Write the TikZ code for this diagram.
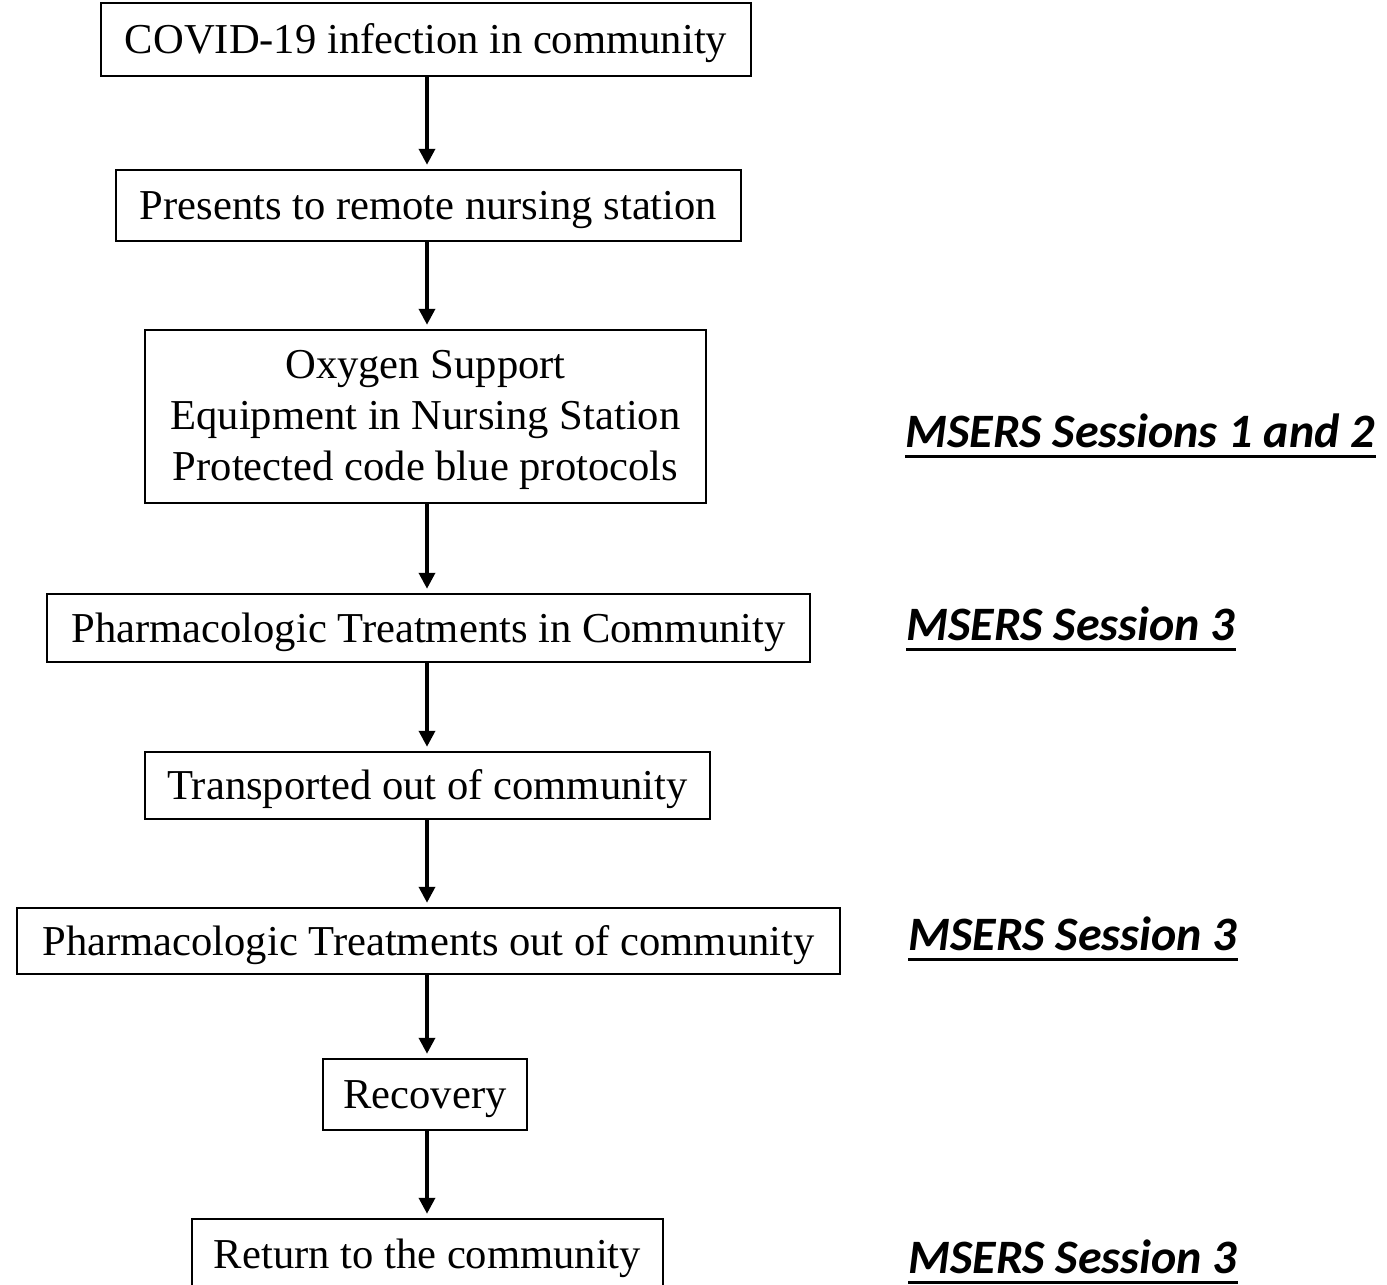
\documentclass[tikz,border=0pt]{standalone}
\usepackage{fontspec}
\setmainfont{Liberation Serif}
\newfontfamily\labfont{Carlito}
\usetikzlibrary{arrows.meta}
\tikzset{
  box/.style={draw, line width=1.25pt, inner sep=0pt, align=center,
    font=\fontsize{21.3}{25.7}\selectfont},
  one/.style={text height=19.1pt, text depth=5pt},
  arr/.style={line width=1.8pt, -{Triangle[width=8pt,length=8pt]}, shorten >=2pt},
  lab/.style={inner sep=0pt, anchor=base west,
    font=\labfont\bfseries\itshape\fontsize{24}{28}\selectfont},
  uline/.style={line width=1.3pt}
}
\begin{document}
\begin{tikzpicture}[x=0.5pt,y=-0.5pt]
\useasboundingbox (0,0) rectangle (1387,1285);
\node[box,one,minimum width=325pt,minimum height=36.5pt] (b1) at (426,39.5) {COVID-19 infection in community};
\node[box,one,minimum width=312.5pt,minimum height=35.5pt] (b2) at (428.5,205.5) {Presents to remote nursing station};
\node[box,text height=68.9pt,text depth=4.6pt,minimum width=280.5pt,minimum height=86.5pt] (b3) at (425.5,416.5) {Oxygen Support\\Equipment in Nursing Station\\Protected code blue protocols};
\node[box,one,minimum width=381.5pt,minimum height=34pt] (b4) at (428.5,628) {Pharmacologic Treatments in Community};
\node[box,one,minimum width=282.5pt,minimum height=33.5pt] (b5) at (427.5,785.5) {Transported out of community};
\node[box,one,minimum width=411.5pt,minimum height=33pt] (b6) at (428.5,941) {Pharmacologic Treatments out of community};
\node[box,one,minimum width=102pt,minimum height=35.5pt] (b7) at (425,1094.5) {Recovery};
\node[box,one,minimum width=235.5pt,minimum height=35.5pt] (b8) at (427.5,1254.5) {Return to the community};

\coordinate (ax) at (427,0);
\draw[arr] (b1.south -| ax) -- (b2.north -| ax);
\draw[arr] (b2.south -| ax) -- (b3.north -| ax);
\draw[arr] (b3.south -| ax) -- (b4.north -| ax);
\draw[arr] (b4.south -| ax) -- (b5.north -| ax);
\draw[arr] (b5.south -| ax) -- (b6.north -| ax);
\draw[arr] (b6.south -| ax) -- (b7.north -| ax);
\draw[arr] (b7.south -| ax) -- (b8.north -| ax);

\node[lab] (l1) at (905,447) {MSERS Sessions 1 and 2};
\node[lab] (l2) at (906,640) {MSERS Session 3};
\node[lab] (l3) at (908,950) {MSERS Session 3};
\node[lab] (l4) at (908,1273) {MSERS Session 3};
\foreach \l in {l1,l2,l3,l4}
  \draw[uline] ([yshift=-4.6pt]\l.base west) -- ([yshift=-4.6pt]\l.base east);
\end{tikzpicture}
\end{document}
